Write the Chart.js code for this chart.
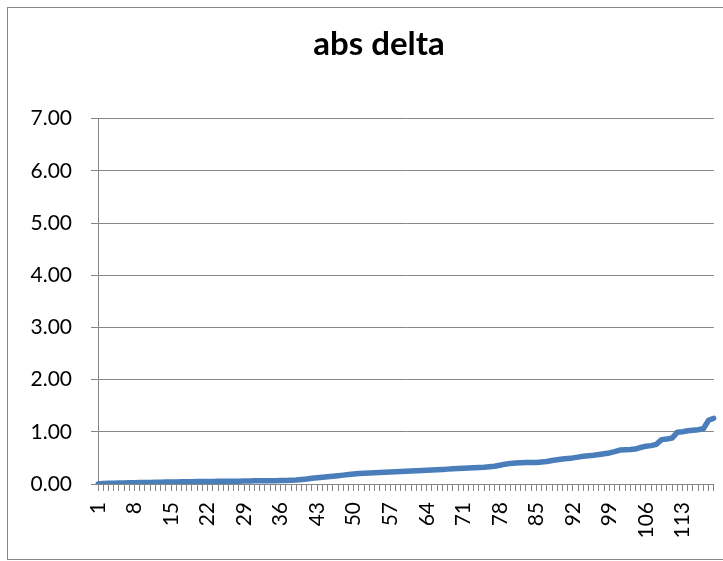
<!DOCTYPE html>
<html>
<head>
<meta charset="utf-8">
<script src="https://cdn.jsdelivr.net/npm/chart.js@4.4.0/dist/chart.umd.min.js"></script>
<style>
  html, body { margin: 0; padding: 0; background: #fff; overflow: hidden; }
  #frame {
    position: absolute; left: 7px; top: 7px;
    width: 742px; height: 551px;
    border: 1px solid #868686;
  }
</style>
</head>
<body>
<div id="frame"><canvas id="myChart" width="742" height="551"></canvas></div>
<script>
// abs delta values, sorted ascending
const absDelta = [
  0.00, 0.010, 0.012, 0.015, 0.018, 0.020, 0.022, 0.025, 0.027, 0.030, 0.031,
  0.033, 0.035, 0.036, 0.038, 0.040, 0.041, 0.043, 0.044, 0.046, 0.047,
  0.048, 0.050, 0.051, 0.052, 0.053, 0.054, 0.055, 0.057, 0.058, 0.060,
  0.061, 0.062, 0.063, 0.064, 0.065, 0.067, 0.070, 0.075, 0.085, 0.095,
  0.110, 0.120, 0.130, 0.140, 0.150, 0.160, 0.170, 0.180, 0.190, 0.200,
  0.205, 0.210, 0.215, 0.220, 0.225, 0.230, 0.235, 0.240, 0.245, 0.250,
  0.255, 0.260, 0.265, 0.270, 0.275, 0.280, 0.285, 0.290, 0.295, 0.300,
  0.305, 0.310, 0.315, 0.320, 0.330, 0.340, 0.360, 0.380, 0.395, 0.400,
  0.405, 0.410, 0.410, 0.410, 0.420, 0.430, 0.450, 0.465, 0.480, 0.490,
  0.500, 0.515, 0.530, 0.540, 0.550, 0.565, 0.580, 0.595, 0.620, 0.650,
  0.655, 0.660, 0.670, 0.700, 0.725, 0.735, 0.760, 0.850, 0.860, 0.880,
  0.990, 1.000, 1.020, 1.030, 1.040, 1.060, 1.220, 1.260
];
const categories = absDelta.map((v, i) => String(i + 1));
const yTicks = [0, 1, 2, 3, 4, 5, 6, 7];
const labelStep = 7;

const gray = '#868686';
const tickFont = { family: 'Lato', size: 21 };

const ctx = document.getElementById('myChart').getContext('2d');
new Chart(ctx, {
  type: 'line',
  data: {
    labels: categories,
    datasets: [{
      label: 'abs delta',
      data: absDelta,
      yAxisID: 'y',
      borderColor: '#4a7ebb',
      borderWidth: 5.5,
      pointRadius: 0,
      tension: 0,
      borderJoinStyle: 'round',
      borderCapStyle: 'round'
    }]
  },
  options: {
    responsive: false,
    animation: false,
    layout: { padding: 0 },
    plugins: {
      legend: { display: false },
      tooltip: { enabled: false },
      title: {
        display: true,
        text: 'abs delta',
        color: '#000',
        font: { family: 'Lato', size: 33, weight: 'bold' },
        padding: { top: 17, bottom: 54 }
      }
    },
    scales: {
      x: {
        offset: false,
        grid: { drawOnChartArea: false, tickColor: gray, tickLength: 7, lineWidth: 1 },
        border: { color: gray, width: 1 },
        ticks: {
          autoSkip: false,
          minRotation: 90,
          maxRotation: 90,
          padding: 11,
          color: '#000',
          font: tickFont,
          callback: (val, i) => (i % labelStep === 0 ? categories[i] : '')
        },
        afterFit: (s) => { s.height = 75; }
      },
      y: {
        position: 'left',
        min: yTicks[0],
        max: yTicks[yTicks.length - 1],
        afterBuildTicks: (s) => { s.ticks = yTicks.map(v => ({ value: v })); },
        grid: { color: gray, tickColor: gray, tickLength: 7, lineWidth: 1 },
        border: { color: gray, width: 1 },
        ticks: {
          padding: 19,
          color: '#000',
          font: tickFont,
          callback: (v) => Number(v).toFixed(2)
        },
        afterFit: (s) => { s.width = 90; }
      },
      // empty right-hand margin of the plot area
      yRight: {
        position: 'right',
        min: yTicks[0],
        max: yTicks[yTicks.length - 1],
        grid: { display: false },
        border: { display: false },
        ticks: { display: false },
        afterFit: (s) => { s.width = 34; }
      }
    }
  }
});
</script>
</body>
</html>
